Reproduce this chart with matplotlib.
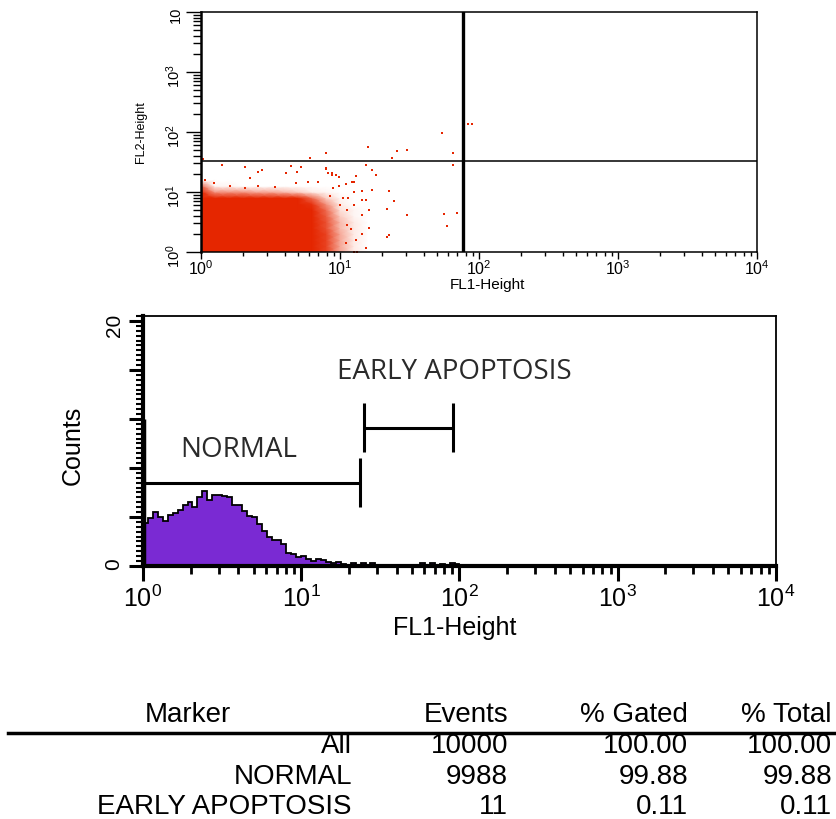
import numpy as np
import matplotlib.pyplot as plt
from matplotlib.colors import LinearSegmentedColormap
from matplotlib.lines import Line2D
from matplotlib.ticker import LogLocator, MultipleLocator, NullFormatter

plt.rcParams['font.family'] = ['Liberation Sans', 'DejaVu Sans']
plt.rcParams['mathtext.default'] = 'regular'

RED = '#E52600'
PURPLE = '#7A2AD3'
W, H = 837, 819

# ---- dot plot (FL1 vs FL2) ----
quad_fl1 = 77
quad_fl2 = 33
# isolated events outside the main cloud
sparse_fl1 = [54, 15.8, 7.9, 25.7, 30.5, 23.6, 64.6, 64.6, 15.5, 7.9, 17, 8.2, 8.7, 18.2,
              13, 9.8, 12.3, 12.6, 11, 9.8, 8.9, 12.6, 14.3, 17, 22.4, 8.5, 10.5, 11.5,
              14.3, 15.5, 24.5, 10, 12.6, 16.2, 21.9, 11.2, 14.3, 30.2, 56.2, 69.2, 58.9,
              16.2, 11.2, 12, 14.3, 22.4, 21.9, 13, 11, 15.5, 12.6, 13.2, 83, 89, 6.1,
              1.41, 2.07, 2.57, 2.75, 2.24, 4.47, 5.25, 4.07, 4.9, 7.9, 8.7, 9.3, 1.06,
              1.25, 1.62, 2.57, 4.8, 5.9, 6.9, 2.07, 3.4, 1.04]
sparse_fl2 = [95, 56.9, 44.2, 49, 50, 36.3, 44.2, 28.2, 28.2, 24, 23.4, 20.9, 19.1, 19.1,
              18.6, 17.6, 14.8, 14.8, 13.5, 12.6, 11.5, 10.1, 10.5, 10.7, 10.5, 8.5, 7.8, 7.8,
              7.4, 7.4, 7.1, 6, 6, 5, 5.2, 5, 4.2, 4.1, 4.3, 4.5, 2.75,
              2.5, 2.8, 2.4, 2.0, 1.9, 1.76, 1.6, 1.4, 1.15, 1.01, 1.01, 138, 135, 36.3,
              28.2, 25.7, 21.9, 23.4, 17.4, 26.9, 25.7, 20.9, 21.4, 25.1, 20.9, 19.5, 15.8,
              14.3, 12.7, 12.7, 14.3, 14.8, 14.8, 11.5, 12.3, 35]
# event density of the main cloud on a 0.1-decade grid (rows: FL2, cols: FL1)
dens_fl1 = 10 ** np.linspace(0, 1.3, 14)
dens_fl2 = 10 ** np.linspace(0, 1.2, 13)
density = np.array([
    [1, 1, 1, 1, 1, 1, 1, 1, 0.9, 0.6, 0.3, 0.1, 0, 0],
    [1, 1, 1, 1, 1, 1, 1, 1, 0.9, 0.6, 0.3, 0.1, 0, 0],
    [1, 1, 1, 1, 1, 1, 1, 1, 0.9, 0.6, 0.3, 0.1, 0, 0],
    [1, 1, 1, 1, 1, 1, 1, 1, 0.9, 0.6, 0.3, 0.1, 0, 0],
    [1, 1, 1, 1, 1, 1, 1, 1, 0.85, 0.55, 0.25, 0.1, 0, 0],
    [1, 1, 1, 1, 1, 1, 1, 1, 0.85, 0.55, 0.25, 0.1, 0, 0],
    [1, 1, 1, 1, 1, 1, 1, 0.95, 0.8, 0.5, 0.2, 0.05, 0, 0],
    [1, 1, 1, 1, 1, 1, 1, 0.95, 0.75, 0.45, 0.15, 0.05, 0, 0],
    [1, 1, 1, 1, 1, 1, 0.95, 0.9, 0.65, 0.35, 0.1, 0, 0, 0],
    [1, 0.95, 0.95, 0.95, 0.9, 0.9, 0.85, 0.75, 0.45, 0.2, 0.05, 0, 0, 0],
    [0.85, 0.35, 0.35, 0.35, 0.3, 0.3, 0.25, 0.2, 0.1, 0.05, 0, 0, 0, 0],
    [0.45, 0.05, 0.05, 0, 0, 0, 0, 0, 0, 0, 0, 0, 0, 0],
    [0, 0, 0, 0, 0, 0, 0, 0, 0, 0, 0, 0, 0, 0],
])

# ---- FL1 histogram (128 log channels over 4 decades) ----
hist_counts = [3.5, 3.9, 4.4, 4.0, 3.7, 4.2, 4.35, 4.6, 5.0, 5.2, 4.8, 5.6, 6.1, 5.4, 5.8, 5.8,
               5.7, 5.6, 5.0, 5.0, 4.5, 4.1, 4.0, 3.4, 2.85, 2.4, 2.1, 2.1, 1.8, 1.1, 0.95, 0.7,
               0.8, 0.6, 0.4, 0.6, 0.45, 0.35, 0.25, 0.3, 0.2, 0.1, 0.25, 0.1, 0.25, 0.05, 0.25, 0,
               0, 0, 0, 0, 0, 0, 0, 0, 0.25, 0.1, 0.25, 0.1, 0.2, 0.05, 0.25, 0.2] + [0] * 64
first_channel = 12
normal_gate = (1.0, 23.5)
early_gate = (24.9, 91)

# ---- statistics table ----
columns = ['Marker', 'Events', '% Gated', '% Total']
markers = ['All', 'NORMAL', 'EARLY APOPTOSIS']
events = [10000, 9988, 11]
pct_gated = [100.00, 99.88, 0.11]
pct_total = [100.00, 99.88, 0.11]


def fx(px):
    return px / W


def fy(py):
    return 1 - py / H


fig = plt.figure(figsize=(W / 100, H / 100), dpi=100)

# dot plot
ax1 = fig.add_axes([fx(201), fy(252), (757 - 201) / W, 240 / H])
ax1.set_xscale('log')
ax1.set_yscale('log')
cmap = LinearSegmentedColormap.from_list('dots', [(0, 'white'), (0.15, '#FDE0D8'),
                                                  (0.45, '#EE6A50'), (0.7, RED), (1, RED)])
ax1.pcolormesh(dens_fl1, dens_fl2, density, shading='gouraud', cmap=cmap, vmin=0, vmax=1)
ax1.scatter(sparse_fl1, sparse_fl2, s=3.5, marker='s', color=RED, linewidths=0)
ax1.axvline(quad_fl1, color='black', lw=2.4)
ax1.axhline(quad_fl2, color='black', lw=1.1)
ax1.set_xlim(1, 1e4)
ax1.set_ylim(1, 1e4)
decades = [1, 10, 100, 1000, 10000]
ax1.set_xticks(decades, ['$10^{0}$', '$10^{1}$', '$10^{2}$', '$10^{3}$', '$10^{4}$'])
ax1.set_yticks(decades, ['$10^{0}$', '$10^{1}$', '$10^{2}$', '$10^{3}$', '10'])
for axis in (ax1.xaxis, ax1.yaxis):
    axis.set_minor_locator(LogLocator(base=10, subs=range(2, 10), numticks=20))
    axis.set_minor_formatter(NullFormatter())
ax1.tick_params(axis='x', which='major', direction='out', length=5, width=1, labelsize=11.5, pad=0)
ax1.tick_params(axis='x', which='minor', direction='out', length=3, width=1)
ax1.tick_params(axis='y', which='major', direction='out', length=11, width=1, labelsize=10.5,
                labelrotation=90, pad=2)
ax1.tick_params(axis='y', which='minor', direction='out', length=6, width=1)
for s in ax1.spines.values():
    s.set_linewidth(1.1)
ax1.spines['left'].set_linewidth(1.8)
ax1.set_xlabel('FL1-Height', fontsize=11)
ax1.xaxis.set_label_coords(0.516, -0.108)
ax1.set_ylabel('FL2-Height', fontsize=9)
ax1.yaxis.set_label_coords(-0.097, 0.5)

# histogram
ax2 = fig.add_axes([fx(143), fy(566), (776 - 143) / W, 250 / H])
ax2.set_xscale('log')
edges = np.logspace(0, 4, len(hist_counts) + 1)
ax2.stairs(hist_counts, edges, fill=True, color=PURPLE)
ax2.stairs(hist_counts, edges, color='black', lw=1.3)
ax2.vlines(10 ** 0.008, 0, first_channel, color='black', lw=2.5)

# marker gates
for (x0, x1), y in ((normal_gate, 6.8), (early_gate, 11.3)):
    ax2.hlines(y, x0, x1, color='black', lw=2.2)
    ax2.vlines([x0, x1], y - 2.0, y + 2.0, color='black', lw=2.2)
ax2.text(4.0, 9.5, 'NORMAL', fontsize=20, family='Open Sans', color='#2a2a2a',
         ha='center', va='center')
ax2.text(93, 15.8, 'EARLY APOPTOSIS', fontsize=20, family='Open Sans', color='#2a2a2a',
         ha='center', va='center')

ax2.set_xlim(1, 1e4)
ax2.set_ylim(0, 20.4)
ax2.set_xticks(decades, ['$10^{0}$', '$10^{1}$', '$10^{2}$', '$10^{3}$', '$10^{4}$'])
ax2.xaxis.set_minor_locator(LogLocator(base=10, subs=range(2, 10), numticks=20))
ax2.xaxis.set_minor_formatter(NullFormatter())
ax2.set_yticks([0, 4, 8, 12, 16, 20], ['0', '', '', '', '', '20'])
ax2.yaxis.set_minor_locator(MultipleLocator(0.4))
ax2.tick_params(axis='x', which='major', direction='out', length=11, width=2.2, labelsize=18, pad=3)
ax2.tick_params(axis='x', which='minor', direction='out', length=6, width=2)
ax2.tick_params(axis='y', which='major', direction='out', length=10, width=2.2, labelsize=15,
                labelrotation=90, pad=4)
ax2.tick_params(axis='y', which='minor', direction='out', length=5, width=1.5)
for side in ('top', 'right'):
    ax2.spines[side].set_linewidth(1.3)
for side in ('left', 'bottom'):
    ax2.spines[side].set_linewidth(3)
ax2.set_xlabel('FL1-Height', fontsize=18)
ax2.xaxis.set_label_coords(0.493, -0.2)
ax2.set_ylabel('Counts', fontsize=18)
ax2.yaxis.set_label_coords(-0.092, 0.484)

# statistics table
tsize = 20
col_right = [352, 508, 688, 832]
fig.text(fx(188), fy(722), columns[0], fontsize=tsize, ha='center', va='baseline')
for name, xr in zip(columns[1:], col_right[1:]):
    fig.text(fx(xr), fy(722), name, fontsize=tsize, ha='right', va='baseline')
fig.add_artist(Line2D([fx(8), fx(837)], [fy(733), fy(733)], color='black', lw=2.5))
for i, base in enumerate([753, 784, 814]):
    row = [markers[i], f'{events[i]}', f'{pct_gated[i]:.2f}', f'{pct_total[i]:.2f}']
    for txt, xr in zip(row, col_right):
        fig.text(fx(xr), fy(base), txt, fontsize=tsize, ha='right', va='baseline')

fig.savefig('out.png', dpi=100)
